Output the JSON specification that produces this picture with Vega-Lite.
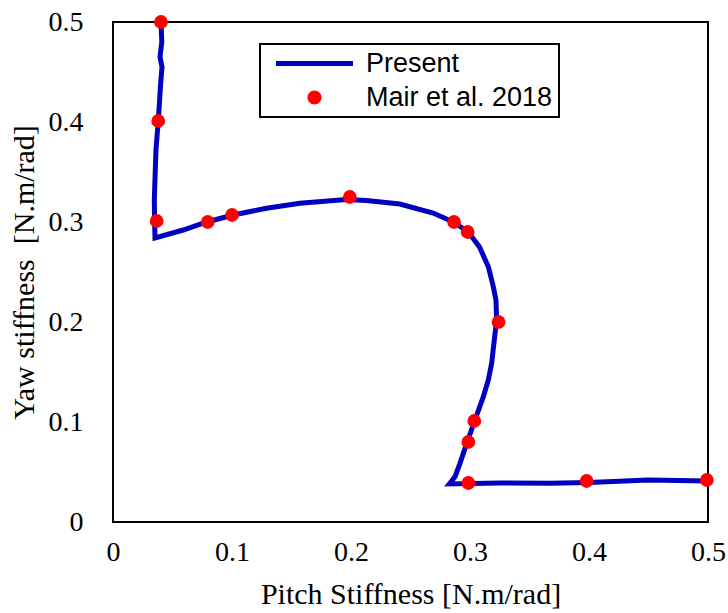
{
  "$schema": "https://vega.github.io/schema/vega-lite/v6.json",
  "width": 595,
  "height": 500,
  "autosize": {"type": "none"},
  "padding": {"left": 113, "top": 22, "right": 20, "bottom": 91},
  "background": "white",
  "datasets": {
    "present": [
      {"i": 1, "x": 0.0403, "y": 0.5, "series": "Present"},
      {"i": 2, "x": 0.041, "y": 0.48, "series": "Present"},
      {"i": 3, "x": 0.0395, "y": 0.465, "series": "Present"},
      {"i": 4, "x": 0.0412, "y": 0.455, "series": "Present"},
      {"i": 5, "x": 0.04, "y": 0.438, "series": "Present"},
      {"i": 6, "x": 0.0381, "y": 0.402, "series": "Present"},
      {"i": 7, "x": 0.0361, "y": 0.372, "series": "Present"},
      {"i": 8, "x": 0.0347, "y": 0.322, "series": "Present"},
      {"i": 9, "x": 0.035, "y": 0.3, "series": "Present"},
      {"i": 10, "x": 0.0353, "y": 0.284, "series": "Present"},
      {"i": 11, "x": 0.059, "y": 0.292, "series": "Present"},
      {"i": 12, "x": 0.0787, "y": 0.3, "series": "Present"},
      {"i": 13, "x": 0.101, "y": 0.307, "series": "Present"},
      {"i": 14, "x": 0.129, "y": 0.3137, "series": "Present"},
      {"i": 15, "x": 0.157, "y": 0.3187, "series": "Present"},
      {"i": 16, "x": 0.196, "y": 0.3225, "series": "Present"},
      {"i": 17, "x": 0.213, "y": 0.3215, "series": "Present"},
      {"i": 18, "x": 0.241, "y": 0.318, "series": "Present"},
      {"i": 19, "x": 0.269, "y": 0.309, "series": "Present"},
      {"i": 20, "x": 0.286, "y": 0.3, "series": "Present"},
      {"i": 21, "x": 0.2986, "y": 0.29, "series": "Present"},
      {"i": 22, "x": 0.308, "y": 0.275, "series": "Present"},
      {"i": 23, "x": 0.3154, "y": 0.2553, "series": "Present"},
      {"i": 24, "x": 0.3196, "y": 0.2353, "series": "Present"},
      {"i": 25, "x": 0.3218, "y": 0.222, "series": "Present"},
      {"i": 26, "x": 0.3224, "y": 0.202, "series": "Present"},
      {"i": 27, "x": 0.3204, "y": 0.182, "series": "Present"},
      {"i": 28, "x": 0.3182, "y": 0.1587, "series": "Present"},
      {"i": 29, "x": 0.3154, "y": 0.142, "series": "Present"},
      {"i": 30, "x": 0.3112, "y": 0.1253, "series": "Present"},
      {"i": 31, "x": 0.3042, "y": 0.102, "series": "Present"},
      {"i": 32, "x": 0.2972, "y": 0.0787, "series": "Present"},
      {"i": 33, "x": 0.2916, "y": 0.0587, "series": "Present"},
      {"i": 34, "x": 0.2874, "y": 0.0453, "series": "Present"},
      {"i": 35, "x": 0.2826, "y": 0.038, "series": "Present"},
      {"i": 36, "x": 0.325, "y": 0.039, "series": "Present"},
      {"i": 37, "x": 0.367, "y": 0.0387, "series": "Present"},
      {"i": 38, "x": 0.4, "y": 0.0395, "series": "Present"},
      {"i": 39, "x": 0.45, "y": 0.042, "series": "Present"},
      {"i": 40, "x": 0.5, "y": 0.041, "series": "Present"}
    ],
    "mair": [
      {"x": 0.0403, "y": 0.5, "series": "Mair et al. 2018"},
      {"x": 0.038, "y": 0.401, "series": "Mair et al. 2018"},
      {"x": 0.0367, "y": 0.301, "series": "Mair et al. 2018"},
      {"x": 0.0796, "y": 0.3, "series": "Mair et al. 2018"},
      {"x": 0.1, "y": 0.307, "series": "Mair et al. 2018"},
      {"x": 0.199, "y": 0.325, "series": "Mair et al. 2018"},
      {"x": 0.2866, "y": 0.3, "series": "Mair et al. 2018"},
      {"x": 0.298, "y": 0.29, "series": "Mair et al. 2018"},
      {"x": 0.324, "y": 0.2, "series": "Mair et al. 2018"},
      {"x": 0.3036, "y": 0.101, "series": "Mair et al. 2018"},
      {"x": 0.2986, "y": 0.08, "series": "Mair et al. 2018"},
      {"x": 0.2986, "y": 0.039, "series": "Mair et al. 2018"},
      {"x": 0.398, "y": 0.041, "series": "Mair et al. 2018"},
      {"x": 0.499, "y": 0.042, "series": "Mair et al. 2018"}
    ]
  },
  "layer": [
    {
      "data": {"name": "present"},
      "mark": {"type": "line", "strokeWidth": 5, "clip": false},
      "encoding": {
        "x": {"field": "x", "type": "quantitative"},
        "y": {"field": "y", "type": "quantitative"},
        "order": {"field": "i", "type": "quantitative"},
        "color": {"field": "series", "type": "nominal"}
      }
    },
    {
      "data": {"name": "mair"},
      "mark": {"type": "point", "filled": true, "opacity": 1, "size": 190, "clip": false},
      "encoding": {
        "x": {"field": "x", "type": "quantitative"},
        "y": {"field": "y", "type": "quantitative"},
        "color": {"field": "series", "type": "nominal"}
      }
    }
  ],
  "resolve": {"scale": {"color": "shared"}},
  "encoding": {
    "x": {
      "field": "x", "type": "quantitative",
      "scale": {"domain": [0, 0.5], "nice": false, "zero": false},
      "axis": {
        "title": "Pitch Stiffness [N.m/rad]",
        "values": [0, 0.1, 0.2, 0.3, 0.4, 0.5],
        "format": ".1~f",
        "labelFlush": false,
        "labelOverlap": false,
        "labelBaseline": "middle",
        "labelPadding": 30,
        "titlePadding": 13
      }
    },
    "y": {
      "field": "y", "type": "quantitative",
      "scale": {"domain": [0, 0.5], "nice": false, "zero": false},
      "axis": {
        "title": "Yaw stiffness\u00a0 [N.m/rad]",
        "values": [0, 0.1, 0.2, 0.3, 0.4, 0.5],
        "format": ".1~f",
        "labelFlush": false,
        "labelOverlap": false,
        "labelPadding": 30,
        "titlePadding": 9
      }
    },
    "color": {
      "field": "series", "type": "nominal",
      "scale": {"domain": ["Present", "Mair et al. 2018"], "range": ["#0000C0", "#FF0000"]},
      "legend": {
        "title": null,
        "orient": "none",
        "legendX": 147,
        "legendY": 22,
        "direction": "vertical",
        "strokeColor": "black",
        "padding": 6,
        "symbolOffset": 35,
        "labelOffset": 38,
        "labelFont": "Liberation Sans",
        "labelFontSize": 27,
        "labelColor": "black",
        "labelLimit": 400,
        "rowPadding": 6,
        "encode": {
          "legend": {"update": {"strokeWidth": {"value": 2}}},
          "symbols": {
            "update": {
              "shape": {"signal": "datum.value === 'Present' ? 'stroke' : 'circle'"},
              "size": {"signal": "datum.value === 'Present' ? 5929 : 200"},
              "strokeWidth": {"signal": "datum.value === 'Present' ? 5 : 0"},
              "stroke": {"signal": "datum.value === 'Present' ? '#0000C0' : '#FF0000'"},
              "fill": {"signal": "datum.value === 'Present' ? 'transparent' : '#FF0000'"},
              "opacity": {"value": 1},
              "fillOpacity": {"value": 1},
              "strokeOpacity": {"value": 1}
            }
          }
        }
      }
    }
  },
  "config": {
    "view": {"stroke": "black", "strokeWidth": 2},
    "axis": {
      "grid": false,
      "ticks": false,
      "domain": false,
      "labelFont": "Liberation Serif",
      "labelFontSize": 28,
      "labelColor": "black",
      "titleFont": "Liberation Serif",
      "titleFontSize": 30,
      "titleFontWeight": "normal",
      "titleColor": "black"
    }
  }
}
